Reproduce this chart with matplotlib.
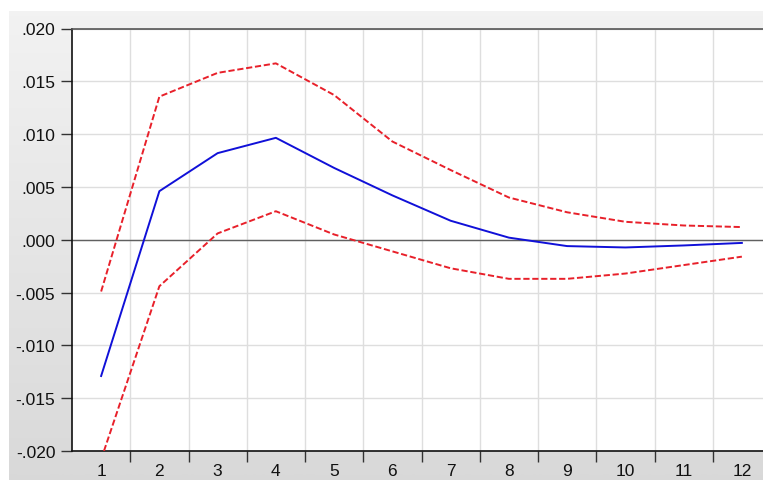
import numpy as np
import matplotlib
matplotlib.use("Agg")
import matplotlib.pyplot as plt

plt.rcParams['font.family'] = ['Liberation Sans', 'DejaVu Sans']

periods = [1, 2, 3, 4, 5, 6, 7, 8, 9, 10, 11, 12]
response = [-0.0129, 0.0046, 0.0082, 0.00965, 0.0068, 0.0042, 0.0018, 0.0002, -0.0006, -0.00073, -0.00054, -0.0003]
upper = [-0.0049, 0.01355, 0.0158, 0.0167, 0.0137, 0.0093, 0.0066, 0.0040, 0.0026, 0.0017, 0.00135, 0.0012]
lower = [-0.0208, -0.0044, 0.0006, 0.0027, 0.0005, -0.0011, -0.0027, -0.0037, -0.0037, -0.0032, -0.0024, -0.0016]
ytick_vals = [-0.020, -0.015, -0.010, -0.005, 0.0, 0.005, 0.010, 0.015, 0.020]
ytick_labels = ["-.020", "-.015", "-.010", "-.005", ".000", ".005", ".010", ".015", ".020"]

W, H = 763, 481
fig = plt.figure(figsize=(W / 100, H / 100), dpi=100, facecolor="white")

# grey gradient panel behind the chart (light at top, darker at bottom)
bg = fig.add_axes([9 / W, 0, 1 - 9 / W, (H - 12) / H], zorder=0)
shade = np.linspace(0.95, 0.85, 256).reshape(-1, 1, 1) * np.ones((1, 1, 3))
bg.imshow(shade, aspect="auto", extent=[0, 1, 0, 1])
bg.set_axis_off()

# plot area runs past the right edge, like the original screenshot
ax = fig.add_axes([72 / W, (H - 452) / H, 699 / W, 422.5 / H], zorder=1)
ax.set_facecolor("white")

ax.plot(periods, upper, color="#e8202a", lw=1.4, linestyle=(0, (3.2, 1.4)), zorder=3)
ax.plot(periods, lower, color="#e8202a", lw=1.4, linestyle=(0, (3.2, 1.4)), zorder=3)
ax.plot(periods, response, color="#1010d8", lw=1.4, zorder=4)
ax.axhline(0, color="#606060", lw=1.0, zorder=2)

ax.set_xlim(0.5, 12.5)
ax.set_ylim(-0.020, 0.020)

bounds = [p + 0.5 for p in periods[:-1]]
ax.set_xticks(bounds)
ax.set_xticklabels([])
ax.set_xticks(periods, minor=True)
ax.set_xticklabels([str(p) for p in periods], minor=True)
ax.tick_params(axis="x", which="major", length=8, width=1, color="#333333", direction="out")
ax.tick_params(axis="x", which="minor", length=0, pad=9, labelsize=12.5, colors="#111111")

ax.set_yticks(ytick_vals)
ax.set_yticklabels(ytick_labels)
ax.tick_params(axis="y", length=8, width=1, color="#333333", direction="out", pad=4,
               labelsize=12.5, labelcolor="#111111")

ax.grid(True, which="major", color="#dedede", lw=1.0, zorder=1)
ax.set_axisbelow(True)

for side in ["left", "bottom"]:
    ax.spines[side].set_color("#111111")
    ax.spines[side].set_linewidth(1.2)
ax.spines["top"].set_color("#555555")
ax.spines["top"].set_linewidth(1.2)
ax.spines["right"].set_visible(False)

fig.savefig("out.png", dpi=100, facecolor="white")
